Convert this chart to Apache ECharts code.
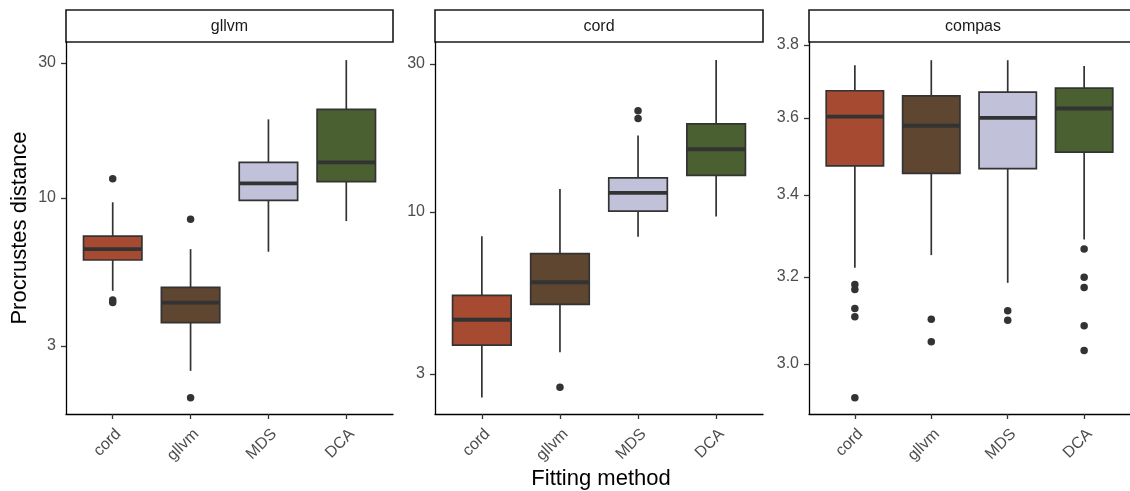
<!DOCTYPE html>
<html>
<head>
<meta charset="utf-8">
<script src="https://cdn.jsdelivr.net/npm/echarts@6/dist/echarts.min.js"></script>
<style>
html, body { margin: 0; padding: 0; background: #fff; }
#main { width: 1130px; height: 491px; }
</style>
</head>
<body>
<div id="main"></div>
<script>
var methods = ['cord', 'gllvm', 'MDS', 'DCA'];
var panelNames = ['gllvm', 'cord', 'compas'];
var methodColors = ['#A64B31', '#5F4630', '#C1C1DA', '#4A6030'];

// per method: [lower whisker, Q1, median, Q3, upper whisker]
var gllvmBoxes = [
    [4.70, 6.04, 6.60, 7.34, 9.66],
    [2.45, 3.63, 4.27, 4.83, 6.60],
    [6.46, 9.81, 11.27, 13.37, 18.97],
    [8.29, 11.42, 13.37, 20.58, 30.73]
];
var gllvmOutliers = [[11.70, 4.36, 4.27], [8.41, 1.97], [], []];

var cordBoxes = [
    [2.52, 3.72, 4.49, 5.38, 8.34],
    [3.53, 5.03, 5.93, 7.34, 11.86],
    [8.32, 10.05, 11.51, 12.87, 17.63],
    [9.66, 13.12, 15.92, 19.22, 30.9]
];
var cordOutliers = [[], [2.72], [21.2, 20.0], []];

var compasBoxes = [
    [3.222, 3.474, 3.603, 3.673, 3.743],
    [3.252, 3.455, 3.579, 3.659, 3.757],
    [3.186, 3.467, 3.600, 3.669, 3.757],
    [3.290, 3.510, 3.625, 3.680, 3.741]
];
var compasOutliers = [
    [3.182, 3.170, 3.126, 3.107, 2.926],
    [3.101, 3.050],
    [3.121, 3.099],
    [3.267, 3.199, 3.175, 3.086, 3.030]
];

var logTicks = [3, 10, 30];
var compasTicks = [3.0, 3.2, 3.4, 3.6, 3.8];

var chart = echarts.init(document.getElementById('main'));
var font = 'Liberation Sans, Arial, sans-serif';

var panels = [
    { boxes: gllvmBoxes, outliers: gllvmOutliers, min: 1.725, max: 35.6, ticks: logTicks, left: 66, width: 327 },
    { boxes: cordBoxes, outliers: cordOutliers, min: 2.23, max: 35.3, ticks: logTicks, left: 435, width: 328 },
    { boxes: compasBoxes, outliers: compasOutliers, min: 2.891, max: 3.808, ticks: compasTicks, left: 809, width: 328 }
];

function renderBox(params, api) {
    var x = api.value(0);
    var lo = api.coord([x, api.value(1)]);
    var q1 = api.coord([x, api.value(2)]);
    var md = api.coord([x, api.value(3)]);
    var q3 = api.coord([x, api.value(4)]);
    var hi = api.coord([x, api.value(5)]);
    var l = api.coord([x - 0.375, api.value(3)])[0];
    var r = api.coord([x + 0.375, api.value(3)])[0];
    var line = { stroke: '#333333', lineWidth: 1.7 };
    return {
        type: 'group',
        children: [
            { type: 'line', shape: { x1: lo[0], y1: lo[1], x2: q1[0], y2: q1[1] }, style: line },
            { type: 'line', shape: { x1: q3[0], y1: q3[1], x2: hi[0], y2: hi[1] }, style: line },
            { type: 'rect', shape: { x: l, y: q3[1], width: r - l, height: q1[1] - q3[1] },
              style: { fill: methodColors[x - 1], stroke: '#333333', lineWidth: 1.7 } },
            { type: 'line', shape: { x1: l, y1: md[1], x2: r, y2: md[1] }, style: { stroke: '#333333', lineWidth: 3.8 } }
        ]
    };
}

var grids = [], xAxes = [], yAxes = [], series = [], graphics = [];

panels.forEach(function (p, i) {
    grids.push({ left: p.left, top: 42, width: p.width, height: 372 });
    xAxes.push({
        type: 'value', gridIndex: i, min: 0.4, max: 4.6,
        splitLine: { show: false },
        axisLine: { show: true, onZero: false, lineStyle: { color: '#000', width: 1.3 } },
        axisTick: { show: true, length: 5, customValues: [1, 2, 3, 4], lineStyle: { color: '#333', width: 1.3 } },
        axisLabel: {
            customValues: [1, 2, 3, 4], rotate: 45, margin: 12,
            align: 'right', verticalAlign: 'top',
            color: '#4d4d4d', fontSize: 16, fontFamily: font,
            formatter: function (v) { return methods[Math.round(v) - 1]; }
        }
    });
    yAxes.push({
        type: 'log', logBase: 10, gridIndex: i, min: p.min, max: p.max,
        splitLine: { show: false },
        axisLine: { show: true, onZero: false, lineStyle: { color: '#000', width: 1.3 } },
        axisTick: { show: true, length: 5, customValues: p.ticks, lineStyle: { color: '#333', width: 1.3 } },
        axisLabel: {
            customValues: p.ticks, margin: 10,
            color: '#4d4d4d', fontSize: 16, fontFamily: font,
            formatter: function (v) { return i === 2 ? Number(v).toFixed(1) : String(Math.round(v)); }
        }
    });

    var boxData = p.boxes.map(function (b, k) { return [k + 1].concat(b); });
    series.push({
        type: 'custom', xAxisIndex: i, yAxisIndex: i,
        renderItem: renderBox,
        encode: { x: 0, y: [1, 2, 3, 4, 5] },
        data: boxData, silent: true, clip: false
    });

    var outData = [];
    p.outliers.forEach(function (list, k) {
        list.forEach(function (v) { outData.push([k + 1, v]); });
    });
    series.push({
        type: 'scatter', xAxisIndex: i, yAxisIndex: i,
        data: outData, symbolSize: 7.5,
        itemStyle: { color: '#333333', opacity: 1 }, silent: true, z: 5
    });

    graphics.push({
        type: 'rect', shape: { x: p.left, y: 10, width: p.width, height: 32 },
        style: { fill: '#fff', stroke: '#1a1a1a', lineWidth: 1.6 }
    });
    graphics.push({
        type: 'text', x: p.left + p.width / 2, y: 27,
        style: { text: panelNames[i], fill: '#1a1a1a', font: '16px ' + font, textAlign: 'center', textVerticalAlign: 'middle' }
    });
});

graphics.push({
    type: 'text', x: 20, y: 228, rotation: Math.PI / 2,
    style: { text: 'Procrustes distance', fill: '#000', font: '22px ' + font, textAlign: 'center', textVerticalAlign: 'middle' }
});
graphics.push({
    type: 'text', x: 601, y: 479,
    style: { text: 'Fitting method', fill: '#000', font: '22px ' + font, textAlign: 'center', textVerticalAlign: 'middle' }
});

chart.setOption({
    animation: false,
    backgroundColor: '#fff',
    grid: grids,
    xAxis: xAxes,
    yAxis: yAxes,
    series: series,
    graphic: graphics
});
</script>
</body>
</html>
